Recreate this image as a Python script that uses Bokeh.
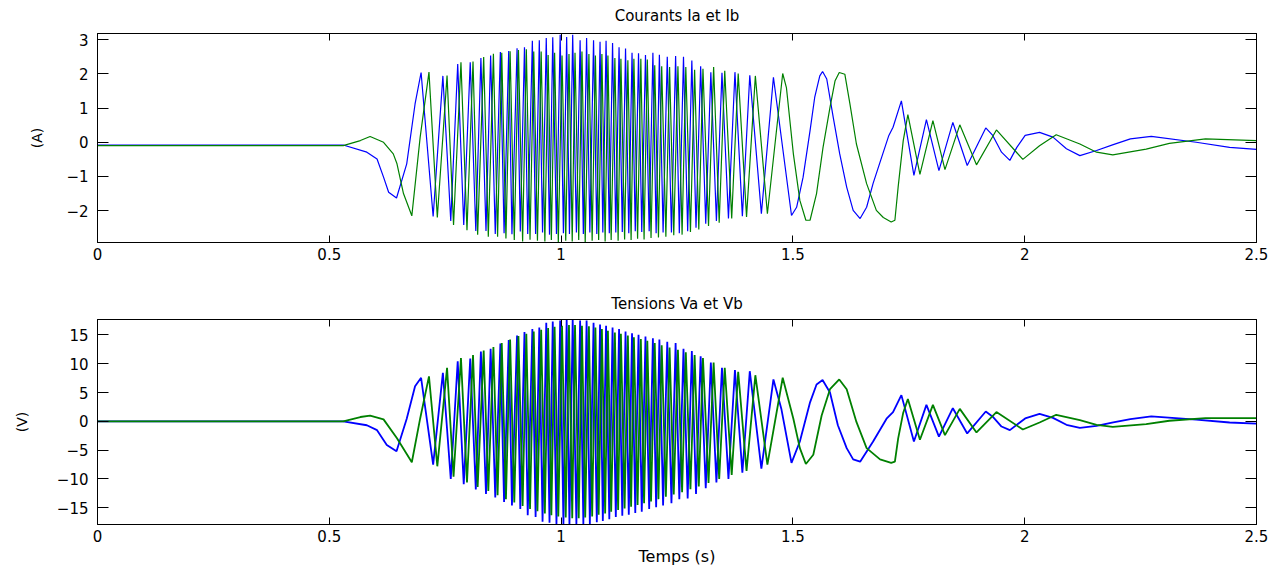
import numpy as np
from bokeh.plotting import figure
from bokeh.models import Range1d, LinearAxis, FixedTicker
from bokeh.layouts import column
from bokeh.embed import file_html
from bokeh.resources import INLINE

# ---------------- axis ticks ----------------
time_ticks = [0, 0.5, 1, 1.5, 2, 2.5]
time_tick_labels = ["0", "0.5", "1", "1.5", "2", "2.5"]
i_ticks = [-2, -1, 0, 1, 2, 3]
i_tick_labels = ["\u22122", "\u22121", "0", "1", "2", "3"]
v_ticks = [-15, -10, -5, 0, 5, 10, 15]
v_tick_labels = ["\u221215", "\u221210", "\u22125", "0", "5", "10", "15"]

# ---------------- extrema times (s) ----------------
t_blue_top = [0.698, 0.745, 0.777, 0.804, 0.827, 0.848, 0.869, 0.887, 0.905, 0.921,
              0.938, 0.953, 0.968, 0.982, 0.998, 1.012, 1.025, 1.041, 1.055, 1.070,
              1.084, 1.097, 1.111, 1.125, 1.139, 1.153, 1.167, 1.182, 1.198, 1.212,
              1.229, 1.247, 1.264, 1.282, 1.301, 1.323, 1.347, 1.375, 1.407, 1.458,
              1.564, 1.734, 1.788, 1.845, 1.916, 2.032, 2.273]
t_blue_bot = [0.645, 0.724, 0.762, 0.790, 0.816, 0.838, 0.858, 0.877, 0.894, 0.912, 0.928,
              0.945, 0.960, 0.975, 0.990, 1.005, 1.018, 1.033, 1.048, 1.062, 1.077,
              1.090, 1.104, 1.118, 1.132, 1.146, 1.160, 1.174, 1.190, 1.205, 1.220,
              1.238, 1.255, 1.273, 1.291, 1.312, 1.335, 1.361, 1.391, 1.432,
              1.497, 1.645, 1.761, 1.815, 1.876, 1.968, 2.119]
t_green_top = [0.715, 0.754, 0.784, 0.810, 0.833, 0.854, 0.872, 0.890, 0.908, 0.925,
               0.941, 0.957, 0.972, 0.986, 1.002, 1.017, 1.030, 1.045, 1.060, 1.074,
               1.088, 1.101, 1.116, 1.129, 1.144, 1.157, 1.172, 1.186, 1.202, 1.217,
               1.234, 1.252, 1.269, 1.288, 1.306, 1.329, 1.353, 1.382, 1.419, 1.478,
               1.600, 1.748, 1.802, 1.860, 1.939, 2.068, 2.390]
t_green_bot = [0.678, 0.733, 0.768, 0.797, 0.820, 0.843, 0.863, 0.881, 0.899, 0.917, 0.933,
               0.949, 0.965, 0.979, 0.994, 1.010, 1.024, 1.038, 1.052, 1.067, 1.081,
               1.095, 1.108, 1.123, 1.137, 1.151, 1.165, 1.179, 1.194, 1.210, 1.226,
               1.243, 1.261, 1.279, 1.297, 1.318, 1.341, 1.368, 1.400, 1.445,
               1.528, 1.712, 1.774, 1.828, 1.896, 1.996, 2.190]

# ---------------- current Ia (blue) ----------------
ia_top = [2.04, 1.94, 2.29, 2.34, 2.46, 2.54, 2.64, 2.67, 2.75, 2.78,
          2.97, 2.98, 3.05, 3.07, 3.14, 3.08, 3.14, 2.98, 3.05, 2.98,
          2.94, 2.97, 2.90, 2.78, 2.74, 2.62, 2.60, 2.55, 2.62, 2.56,
          2.50, 2.52, 2.50, 2.39, 2.22, 2.05, 2.03, 2.05, 1.96, 1.90,
          2.07, 1.21, 0.66, 0.58, 0.42, 0.29, 0.17]
ia_bot = [-1.63, -2.17, -2.30, -2.42, -2.59, -2.59, -2.68, -2.66, -2.69, -2.61, -2.68,
          -2.68, -2.64, -2.70, -2.68, -2.66, -2.68, -2.64, -2.68, -2.64, -2.68,
          -2.64, -2.66, -2.64, -2.62, -2.66, -2.60, -2.62, -2.60, -2.66, -2.64,
          -2.64, -2.66, -2.60, -2.50, -2.38, -2.30, -2.23, -2.16, -2.09,
          -2.14, -2.23, -0.97, -0.83, -0.68, -0.53, -0.39]
ia_shape_t = [0.0, 0.53, 0.581, 0.603, 0.617, 0.628, 0.667, 0.685,
              1.508, 1.522, 1.537, 1.547, 1.558, 1.573, 1.587, 1.601, 1.616, 1.630,
              1.659, 1.673, 1.688, 1.707, 1.716,
              1.931, 1.950, 1.983, 2.001, 2.061, 2.090, 2.155, 2.191, 2.228, 2.370, 2.442, 2.5]
ia_shape_v = [-0.08, -0.08, -0.29, -0.49, -1.02, -1.46, -0.63, 1.12,
              -1.9, -1.02, 0.34, 1.31, 1.94, 1.85, 0.73, -0.34, -1.31, -1.99,
              -1.9, -1.2, -0.58, 0.2, 0.44,
              0.2, -0.29, -0.15, 0.2, 0.15, -0.19, -0.24, -0.07, 0.1, 0.0, -0.15, -0.21]

# ---------------- current Ib (green) ----------------
ib_top = [2.05, 1.95, 2.34, 2.36, 2.49, 2.59, 2.62, 2.66, 2.70, 2.72,
          2.65, 2.65, 2.55, 2.62, 2.54, 2.58, 2.62, 2.65, 2.58, 2.54,
          2.58, 2.54, 2.46, 2.44, 2.40, 2.44, 2.44, 2.42, 2.25, 2.22,
          2.20, 2.22, 2.20, 2.12, 2.15, 2.20, 2.09, 2.01, 1.94, 2.01,
          2.04, 0.81, 0.63, 0.51, 0.36, 0.22, 0.10]
ib_bot = [-2.15, -2.20, -2.42, -2.57, -2.70, -2.76, -2.76, -2.81, -2.86, -2.90, -2.85,
          -2.88, -2.90, -2.86, -2.92, -2.88, -2.90, -2.86, -2.92, -2.88, -2.86,
          -2.90, -2.86, -2.88, -2.84, -2.86, -2.82, -2.84, -2.80, -2.78, -2.76,
          -2.72, -2.70, -2.62, -2.55, -2.45, -2.35, -2.23, -2.18, -2.09,
          -2.28, -2.33, -0.94, -0.80, -0.66, -0.50, -0.37]
ib_shape_t = [0.0, 0.53, 0.567, 0.588, 0.617, 0.638, 0.646, 0.660, 0.696,
              1.486, 1.501, 1.515, 1.537, 1.551, 1.565, 1.580, 1.591, 1.612, 1.623,
              1.637, 1.659, 1.680, 1.695, 1.720, 1.727, 1.738,
              2.032, 2.119, 2.155, 2.262, 2.312, 2.5]
ib_shape_v = [-0.10, -0.10, 0.05, 0.17, 0.0, -0.34, -0.63, -1.5, 0.15,
              1.6, -0.34, -1.7, -2.28, -1.5, -0.15, 1.02, 1.8, 1.99, 1.12,
              -0.05, -1.21, -1.99, -2.2, -2.28, -1.31, 0.05,
              -0.1, -0.05, -0.29, -0.2, -0.03, 0.05]

# ---------------- voltage Va (blue) ----------------
va_top = [7.56, 8.4, 10.4, 10.9, 12.1, 12.6, 13.5, 14.1, 14.9, 15.5,
          16.0, 16.3, 17.1, 17.3, 17.5, 17.7, 17.7, 17.5, 17.5, 17.1,
          16.8, 16.6, 16.3, 16.0, 15.6, 15.3, 15.0, 14.7, 14.4, 14.2,
          13.8, 13.6, 12.6, 12.2, 11.3, 10.2, 9.3, 8.9, 8.7, 7.27,
          7.16, 4.55, 2.85, 2.28, 1.7, 1.31, 0.86]
va_bot = [-5.2, -7.5, -10.0, -10.9, -11.8, -12.6, -13.2, -14.0, -14.6, -15.2, -16.3,
          -16.6, -17.4, -17.6, -17.8, -17.8, -17.9, -17.8, -17.8, -17.8, -17.5,
          -17.3, -17.0, -16.6, -16.4, -16.2, -15.9, -15.7, -15.2, -14.9, -14.6,
          -14.2, -13.5, -13.4, -12.6, -11.6, -10.6, -10.0, -8.9, -8.2,
          -7.2, -7.0, -3.5, -2.66, -2.1, -1.53, -1.13]
va_shape_t = [0.0, 0.53, 0.581, 0.603, 0.624, 0.667, 0.685,
              1.475, 1.515, 1.537, 1.551, 1.580, 1.597, 1.616, 1.630, 1.673, 1.702, 1.716,
              1.931, 1.950, 1.983, 2.001, 2.061, 2.090, 2.155, 2.191, 2.228, 2.370, 2.442, 2.5]
va_shape_v = [0.0, 0.0, -0.68, -1.53, -4.1, 0.46, 6.1,
              2.2, -3.5, 3.3, 6.4, 5.0, -0.68, -4.65, -6.6, -3.5, 0.46, 1.6,
              0.8, -0.9, -0.6, 0.5, 0.6, -0.6, -0.8, -0.2, 0.4, 0.3, -0.2, -0.39]

# ---------------- voltage Vb (green) ----------------
vb_top = [7.8, 9.3, 11.0, 11.5, 12.3, 12.9, 13.6, 14.2, 14.8, 15.2,
          15.6, 15.9, 16.2, 16.4, 16.6, 16.7, 16.7, 16.6, 16.5, 16.3,
          16.0, 15.7, 15.4, 15.2, 14.9, 14.6, 14.3, 14.0, 13.6, 13.2,
          12.8, 12.4, 12.0, 11.5, 11.0, 10.2, 9.3, 8.6, 8.0, 7.56,
          7.27, 3.87, 2.85, 2.16, 1.6, 1.14, 0.57]
vb_bot = [-7.1, -7.8, -9.6, -10.6, -11.4, -12.1, -12.8, -13.5, -14.1, -14.7, -15.2,
          -15.6, -16.0, -16.3, -16.5, -16.7, -16.8, -16.8, -16.7, -16.5, -16.2,
          -16.0, -15.7, -15.4, -15.1, -14.8, -14.5, -14.2, -13.9, -13.5, -13.1,
          -12.7, -12.3, -11.8, -11.3, -10.7, -10.0, -9.3, -8.6, -7.5,
          -7.4, -7.2, -3.2, -2.4, -1.93, -1.41, -0.96]
vb_shape_t = [0.0, 0.53, 0.567, 0.588, 0.617, 0.646, 0.696,
              1.501, 1.515, 1.544, 1.562, 1.580, 1.616, 1.637, 1.659, 1.688, 1.720, 1.727, 1.738,
              2.032, 2.119, 2.155, 2.262, 2.312, 2.5]
vb_shape_v = [0.0, 0.0, 0.75, 1.0, 0.34, -2.95, 0.5,
              0.46, -4.65, -5.8, 1.02, 5.57, 5.57, -0.1, -4.65, -6.6, -7.0, -3.0, 1.5,
              -0.2, 0.2, -0.6, -0.5, 0.1, 0.57]

BLUE = "#0000ff"
GREEN = "#008000"
FONT = "DejaVu Sans"


def build(tt, vt, tb, vb, ts, vs):
    t = np.concatenate([np.asarray(tt, float), np.asarray(tb, float), np.asarray(ts, float)])
    v = np.concatenate([np.asarray(vt, float), np.asarray(vb, float), np.asarray(vs, float)])
    order = np.argsort(t, kind="stable")
    return t[order], v[order]


def tick_only_axis(ticks, length):
    # an axis that only draws inward tick marks (as minor ticks), no labels
    return LinearAxis(ticker=FixedTicker(ticks=[], minor_ticks=ticks),
                      major_tick_line_color=None, major_tick_in=0, major_tick_out=0,
                      minor_tick_in=length, minor_tick_out=0,
                      minor_tick_line_color="black", axis_line_color="black",
                      major_label_standoff=0)


def style(p, yticks, ylabels, ylabel, ylabel_standoff, xlabel=None):
    p.xgrid.visible = False
    p.ygrid.visible = False
    p.outline_line_color = "black"
    p.outline_line_alpha = 1.0
    p.outline_line_width = 1
    p.background_fill_color = "white"
    p.border_fill_color = "white"

    xa = p.xaxis[0]
    xa.ticker = FixedTicker(ticks=time_ticks)
    xa.major_label_overrides = dict(zip(time_ticks, time_tick_labels))
    xa.major_tick_in = 7
    xa.major_tick_out = 0
    xa.minor_tick_line_color = None
    xa.axis_line_color = "black"
    xa.major_tick_line_color = "black"
    xa.major_label_text_font = FONT
    xa.major_label_text_font_size = "15px"
    xa.major_label_text_color = "black"
    xa.major_label_standoff = 5
    if xlabel:
        xa.axis_label = xlabel
        xa.axis_label_text_font = FONT
        xa.axis_label_text_font_size = "16px"
        xa.axis_label_text_font_style = "normal"
        xa.axis_label_text_color = "black"
        xa.axis_label_standoff = 2

    ya = p.yaxis[0]
    ya.ticker = FixedTicker(ticks=yticks)
    ya.major_label_overrides = dict(zip(yticks, ylabels))
    ya.major_tick_in = 11
    ya.major_tick_out = 0
    ya.minor_tick_line_color = None
    ya.axis_line_color = "black"
    ya.major_tick_line_color = "black"
    ya.major_label_text_font = FONT
    ya.major_label_text_font_size = "15px"
    ya.major_label_text_color = "black"
    ya.major_label_standoff = 9
    ya.axis_label = ylabel
    ya.axis_label_text_font = FONT
    ya.axis_label_text_font_size = "14px"
    ya.axis_label_text_font_style = "normal"
    ya.axis_label_text_color = "black"
    ya.axis_label_standoff = ylabel_standoff

    p.add_layout(tick_only_axis(time_ticks, 7), "above")
    p.add_layout(tick_only_axis(yticks, 11), "right")

    p.title.align = "center"
    p.title.text_font = FONT
    p.title.text_font_size = "15px"
    p.title.text_font_style = "normal"
    p.title.text_color = "black"


# ---------------- top figure: currents ----------------
p1 = figure(width=1276, height=282, output_backend="svg", toolbar_location=None,
            x_range=Range1d(0, 2.5), y_range=Range1d(-2.93, 3.18),
            title="Courants Ia et Ib",
            min_border_left=97, min_border_right=20, min_border_top=33, min_border_bottom=40)
style(p1, i_ticks, i_tick_labels, "(A)", 18)
p1.title.standoff = 13
p1.title.vertical_align = "top"

t, v = build(t_blue_top, ia_top, t_blue_bot, ia_bot, ia_shape_t, ia_shape_v)
p1.line(t, v, line_color=BLUE, line_width=1.2)
t, v = build(t_green_top, ib_top, t_green_bot, ib_bot, ib_shape_t, ib_shape_v)
p1.line(t, v, line_color=GREEN, line_width=1.2)

# ---------------- bottom figure: voltages ----------------
p2 = figure(width=1276, height=286, output_backend="svg", toolbar_location=None,
            x_range=Range1d(0, 2.5), y_range=Range1d(-17.9, 17.67),
            title="Tensions Va et Vb",
            min_border_left=97, min_border_right=20, min_border_top=37, min_border_bottom=40)
style(p2, v_ticks, v_tick_labels, "(V)", 24, xlabel="Temps (s)")
p2.title.standoff = 13

t, v = build(t_blue_top, va_top, t_blue_bot, va_bot, va_shape_t, va_shape_v)
p2.line(t, v, line_color=BLUE, line_width=1.8)
t, v = build(t_green_top, vb_top, t_green_bot, vb_bot, vb_shape_t, vb_shape_v)
p2.line(t, v, line_color=GREEN, line_width=1.8)

layout = column(p1, p2, spacing=0)
open("out.html", "w").write(file_html(layout, INLINE))
